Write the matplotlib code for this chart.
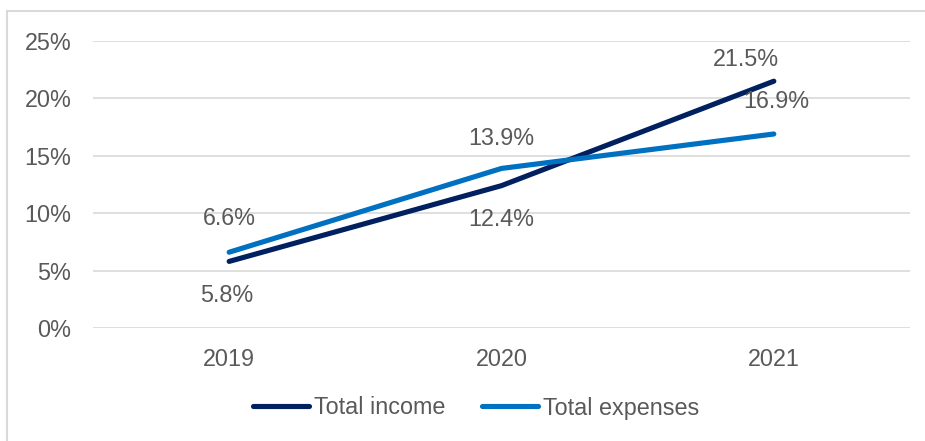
import matplotlib
matplotlib.use("Agg")
import matplotlib.pyplot as plt
from matplotlib.patches import Rectangle

years = ["2019", "2020", "2021"]
total_income = [5.8, 12.4, 21.5]
total_expenses = [6.6, 13.9, 16.9]
series_names = ["Total income", "Total expenses"]
y_ticks = [0, 5, 10, 15, 20, 25]

plt.rcParams['font.family'] = ['Liberation Sans', 'DejaVu Sans']
TXT = '#595959'
FS = 16.8

fig = plt.figure(figsize=(9.25, 4.41), dpi=100)
W, H = 925, 441
ax = fig.add_axes([93 / W, (H - 328) / H, (910 - 93) / W, (328 - 41) / H])

# figure border (partially cropped)
fig.patches.append(Rectangle((7 / W, -0.1), 1.2, (H - 11) / H + 0.1, transform=fig.transFigure,
                             fill=False, edgecolor='#D9D9D9', linewidth=1.5))

x = list(range(len(years)))
colors = ['#002060', '#0070C0']
l1, = ax.plot(x, total_income, color=colors[0], lw=3.7, solid_capstyle='round', label=series_names[0], zorder=3)
l2, = ax.plot(x, total_expenses, color=colors[1], lw=3.7, solid_capstyle='round', label=series_names[1], zorder=3)

ax.set_xlim(-0.5, 2.5)
ax.set_ylim(0, 25)
ax.set_yticks(y_ticks)
ax.set_yticklabels([f"{v}%" for v in y_ticks])
ax.set_xticks(x)
ax.set_xticklabels(years)
ax.grid(axis='y', color='#D9D9D9', linewidth=1.2)
ax.set_axisbelow(True)
for s in ax.spines.values():
    s.set_visible(False)
ax.tick_params(axis='both', length=0, labelsize=FS, labelcolor=TXT)
ax.tick_params(axis='y', pad=15.5)
ax.tick_params(axis='x', pad=14.5)

px = 0.72
# label offsets in pixels (dx, dy up-positive)
inc_off = [(-2, -34), (0, -34), (-28, 22)]
exp_off = [(0, 34), (0, 30), (2, 32)]
for i, v in enumerate(total_income):
    dx, dy = inc_off[i]
    ax.annotate(f"{v:.1f}%", (x[i], v), xytext=(dx * px, dy * px), textcoords='offset points',
                ha='center', va='center', fontsize=FS, color=TXT, zorder=4)
for i, v in enumerate(total_expenses):
    dx, dy = exp_off[i]
    ax.annotate(f"{v:.1f}%", (x[i], v), xytext=(dx * px, dy * px), textcoords='offset points',
                ha='center', va='center', fontsize=FS, color=TXT, zorder=4)

leg = fig.legend(handles=[l1, l2], loc='center', bbox_to_anchor=(476 / W, (H - 408) / H),
                 ncol=2, frameon=False, fontsize=FS, handlelength=2.4, handletextpad=0.2,
                 columnspacing=1.6, borderpad=0)
for t in leg.get_texts():
    t.set_color(TXT)

fig.savefig("out.png", dpi=100)
